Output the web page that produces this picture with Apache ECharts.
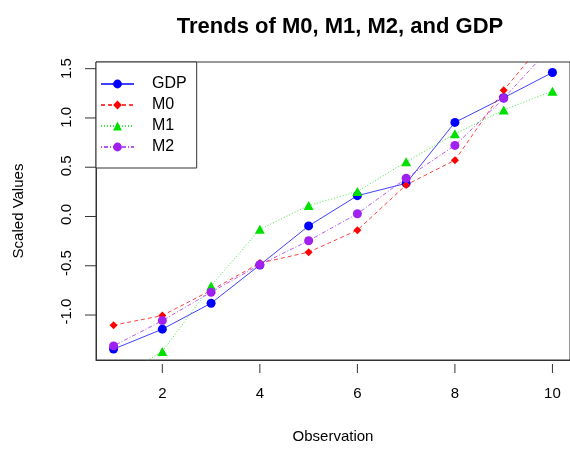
<!DOCTYPE html>
<html>
<head>
<meta charset="utf-8">
<script src="https://cdn.jsdelivr.net/npm/echarts@6/dist/echarts.min.js"></script>
<style>html,body{margin:0;padding:0;background:#fff;}#c{width:570px;height:449px;}</style>
</head>
<body>
<div id="c"></div>
<script>
const observations = [1, 2, 3, 4, 5, 6, 7, 8, 9, 10];
const GDP = [-1.385, -1.18, -0.913, -0.52, -0.118, 0.193, 0.32, 0.947, 1.2, 1.46];
const M0 = [-1.139, -1.04, -0.78, -0.5, -0.388, -0.162, 0.304, 0.558, 1.278, 1.88];
const M1 = [-1.71, -1.41, -0.735, -0.152, 0.091, 0.237, 0.541, 0.829, 1.075, 1.268];
const M2 = [-1.352, -1.092, -0.80, -0.517, -0.27, 0.007, 0.372, 0.71, 1.194, 1.74];
const xTicks = [2, 4, 6, 8, 10];
const yTicks = [-1.0, -0.5, 0.0, 0.5, 1.0, 1.5];

const X_MIN = 0.64, X_MAX = 10.36, Y_MIN = -1.497, Y_MAX = 1.568;
const pairs = (arr) => observations.map((x, i) => [x, arr[i]]);
const font = 'Liberation Sans, Arial, sans-serif';

const chart = echarts.init(document.getElementById('c'), null, {renderer: 'canvas'});
function mk(name, data, color, symbol, size, type) {
  return {
    name, type: 'line', data: pairs(data), symbol, symbolSize: size,
    itemStyle: {color: color},
    lineStyle: {color: color, width: 1, type: type, opacity: 0.75},
    clip: true, animation: false, z: 2
  };
}
// tick marks: short line series in thin helper grids sharing the main axes' scales
const xTickSeries = xTicks.map(v => ({
  type: 'line', xAxisIndex: 1, yAxisIndex: 1, data: [[v, 0], [v, 1]],
  symbol: 'none', silent: true, animation: false, clip: false,
  lineStyle: {color: '#333', width: 1}
}));
const yTickSeries = yTicks.map(v => ({
  type: 'line', xAxisIndex: 2, yAxisIndex: 2, data: [[0, v], [1, v]],
  symbol: 'none', silent: true, animation: false, clip: false,
  lineStyle: {color: '#333', width: 1}
}));
const hiddenAxis = (gi, min, max) => ({
  type: 'value', gridIndex: gi, min, max, show: false,
  axisLine: {show: false}, axisTick: {show: false}, axisLabel: {show: false}, splitLine: {show: false}
});

chart.setOption({
  animation: false,
  title: {
    text: 'Trends of M0, M1, M2, and GDP', left: 335, top: 11, textAlign: 'center',
    textStyle: {fontFamily: font, fontWeight: 'bold', fontSize: 22, color: '#000'}
  },
  grid: [
    {left: 96, top: 62, width: 477, height: 302, show: true, borderColor: '#333', borderWidth: 1, containLabel: false},
    {left: 96, top: 364, width: 477, height: 9, containLabel: false},
    {left: 85, top: 62, width: 11, height: 302, containLabel: false}
  ],
  legend: {
    orient: 'vertical', left: 96, top: 62, itemWidth: 33, itemHeight: 11, itemGap: 5,
    padding: [14, 10, 13, 4],
    borderColor: '#333', borderWidth: 1, backgroundColor: '#fff',
    textStyle: {fontFamily: font, fontSize: 16, color: '#000', padding: [0, 0, 0, 13]},
    data: ['GDP', 'M0', 'M1', 'M2']
  },
  xAxis: [
    {
      type: 'value', gridIndex: 0, min: X_MIN, max: X_MAX,
      name: 'Observation', nameLocation: 'middle', nameGap: 69,
      nameTextStyle: {fontFamily: font, fontSize: 15, color: '#000'},
      axisLine: {show: true, onZero: false, lineStyle: {color: '#333'}},
      splitLine: {show: false},
      axisTick: {show: false},
      axisLabel: {fontFamily: font, fontSize: 15, color: '#000', margin: 26, customValues: xTicks}
    },
    hiddenAxis(1, X_MIN, X_MAX),
    hiddenAxis(2, 0, 1)
  ],
  yAxis: [
    {
      type: 'value', gridIndex: 0, min: Y_MIN, max: Y_MAX,
      name: 'Scaled Values', nameLocation: 'middle', nameGap: 70, nameRotate: 90,
      nameTextStyle: {fontFamily: font, fontSize: 15, color: '#000'},
      axisLine: {show: true, onZero: false, lineStyle: {color: '#333'}},
      splitLine: {show: false},
      axisTick: {show: false},
      axisLabel: {fontFamily: font, fontSize: 15, color: '#000', margin: 22, rotate: 90,
        customValues: yTicks, formatter: (v) => v.toFixed(1)}
    },
    hiddenAxis(1, 0, 1),
    hiddenAxis(2, Y_MIN, Y_MAX)
  ],
  series: [
    mk('GDP', GDP, '#0000FF', 'circle', 9, 'solid'),
    mk('M0', M0, '#FF0000', 'diamond', 8, [4, 3]),
    mk('M1', M1, '#00E000', 'triangle', [10, 9], [1, 2]),
    mk('M2', M2, '#A020F0', 'circle', 9, [1, 2, 4, 2])
  ].concat(xTickSeries, yTickSeries)
});
</script>
</body>
</html>
